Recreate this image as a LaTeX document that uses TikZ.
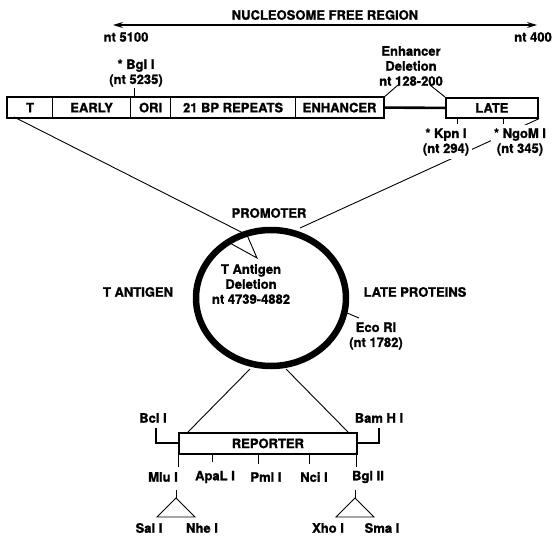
\documentclass[tikz,border=0pt]{standalone}
\usepackage{fontspec}
\setmainfont{TeX Gyre Heros}[BoldFeatures={FakeBold=1.2}]
\usetikzlibrary{arrows.meta,shapes.geometric}
\begin{document}
\begin{tikzpicture}[x=1pt,y=-1pt,
  lbl/.style={font=\fontsize{13}{15}\selectfont\bfseries, inner sep=0pt, align=center},
  wlbl/.style={lbl, fill=white, inner sep=3pt},
  cell/.style={draw, line width=1.2pt, minimum height=20pt, inner sep=0pt, anchor=north west,
               font=\fontsize{13}{15}\selectfont\bfseries},
  thinln/.style={line width=0.9pt},
  tick/.style={line width=1pt},
  brk/.style={line width=1.6pt},
]
\useasboundingbox (0,0) rectangle (555,538);

% top arrow
\node[lbl] (nfr) at (325,15) {NUCLEOSOME FREE REGION};
\coordinate (arL) at (113,25);
\coordinate (arR) at (537,25);
\draw[line width=1.2pt, {Stealth[length=10pt,width=6pt]}-{Stealth[length=10pt,width=6pt]}] (arL) -- (arR);
\node[lbl] (nt5100) at (126,37) {nt 5100};
\node[lbl] (nt400) at (533,37) {nt 400};

% top bar
\node[cell, minimum width=45pt] (cT) at (7,97) {T};
\node[cell, minimum width=78pt] (cEarly) at (52,97) {EARLY};
\node[cell, minimum width=40pt] (cOri) at (130,97) {ORI};
\node[cell, minimum width=125pt] (cRep) at (170,97) {21 BP REPEATS};
\node[cell, minimum width=88pt] (cEnh) at (295,97) {ENHANCER};
\draw[line width=1.8pt] (cT.north west) rectangle (cEnh.south east);
\node[cell, minimum width=92pt, line width=1.8pt] (cLate) at (445,97) {LATE};
\draw[line width=2.6pt] (cEnh.east) -- (cLate.west);

% Bgl I
\node[lbl] (bgl) at (136,73) {* Bgl I\\(nt 5235)};
\coordinate (bglT) at (134,88);
\coordinate (bglB) at (134,97);
\draw[tick] (bglT) -- (bglB);

% enhancer deletion
\node[lbl] (enhdel) at (411,66) {Enhancer\\Deletion\\nt 128-200};
\coordinate (edL) at (398,85);
\coordinate (edR) at (430,85);
\draw[thinln] (cEnh.north east) -- (edL);
\draw[thinln] (cLate.north west) -- (edR);

% plasmid circle
\node[draw, ellipse, line width=6.5pt, minimum width=150pt, minimum height=136pt, inner sep=0pt] (plasmid) at (271,298) {};

% big connectors from bar to circle
\coordinate (tStart) at (14,117);
\coordinate (triR) at (247,235);
\coordinate (triL) at (228,242);
\coordinate (triA) at (257,258);
\draw[thinln] (tStart) -- (triR);
\draw[thinln] (triL) -- (triA) -- (triR);
\coordinate (cTop) at (300,228);
\draw[thinln] (cLate.south east) -- (cTop);

% LATE ticks and labels
\coordinate (kpnT) at (457,124);
\coordinate (ngoT) at (503,124);
\draw[tick] (cLate.south west -| kpnT) -- (kpnT);
\draw[tick] (cLate.south west -| ngoT) -- (ngoT);
\node[wlbl] (kpn) at (446,142) {* Kpn I\\(nt 294)};
\node[wlbl] (ngom) at (520,142) {* NgoM I\\(nt 345)};

% circle labels
\node[lbl] (prom) at (269,213) {PROMOTER};
\node[lbl] (tant) at (138,292) {T ANTIGEN};
\node[lbl] (latep) at (415,292) {LATE PROTEINS};
\node[lbl] (tdel) at (251,284) {T Antigen\\Deletion\\nt 4739-4882};
\coordinate (ecoA) at (347,313);
\coordinate (ecoB) at (359,318);
\draw[thinln] (ecoA) -- (ecoB);
\node[lbl] (eco) at (376,336) {Eco RI\\(nt 1782)};

% reporter
\node[cell, minimum width=178pt, minimum height=21pt, line width=1.8pt] (rep) at (178,432) {REPORTER};
\coordinate (cBL) at (250,369);
\coordinate (cBR) at (286,369);
\coordinate (repL) at (188,432);
\coordinate (repR) at (348,432);
\draw[thinln] (cBL) -- (repL);
\draw[thinln] (cBR) -- (repR);

% Bcl I / Bam H I brackets
\node[lbl] (bcl) at (153,418) {Bcl I};
\node[lbl] (bam) at (379,418) {Bam H I};
\coordinate (bclT) at (156,428);
\coordinate (bamT) at (379,428);
\draw[brk] (bclT) |- (rep.west |- 0,443);
\draw[brk] (bamT) |- (rep.east |- 0,443);

% ticks below reporter
\coordinate (mluB) at (178,467);
\coordinate (apaB) at (212,462);
\coordinate (pmlB) at (258,464);
\coordinate (nciB) at (309,464);
\coordinate (bg2B) at (356,467);
\foreach \c in {mluB,apaB,pmlB,nciB,bg2B}
  \draw[tick] (rep.south -| \c) -- (\c);
\node[lbl] (mlu) at (163,477) {Mlu I};
\node[lbl] (apal) at (215,477) {ApaL I};
\node[lbl] (pml) at (266,477) {Pml I};
\node[lbl] (nci) at (314,477) {Nci I};
\node[lbl] (bgl2) at (368,477) {Bgl II};

% insertion triangles
\coordinate (m1) at (176,490);
\coordinate (m2) at (176,498);
\coordinate (m3) at (157,517);
\coordinate (m4) at (195,517);
\draw[thinln] (m1) -- (m2);
\draw[thinln] (m2) -- (m3) -- (m4) -- cycle;
\coordinate (b1) at (355,490);
\coordinate (b2) at (355,498);
\coordinate (b3) at (336,517);
\coordinate (b4) at (374,517);
\draw[thinln] (b1) -- (b2);
\draw[thinln] (b2) -- (b3) -- (b4) -- cycle;
\node[lbl] (sal) at (149,528) {Sal I};
\node[lbl] (nhe) at (202,528) {Nhe I};
\node[lbl] (xho) at (328,528) {Xho I};
\node[lbl] (sma) at (382,528) {Sma I};
\end{tikzpicture}
\end{document}
